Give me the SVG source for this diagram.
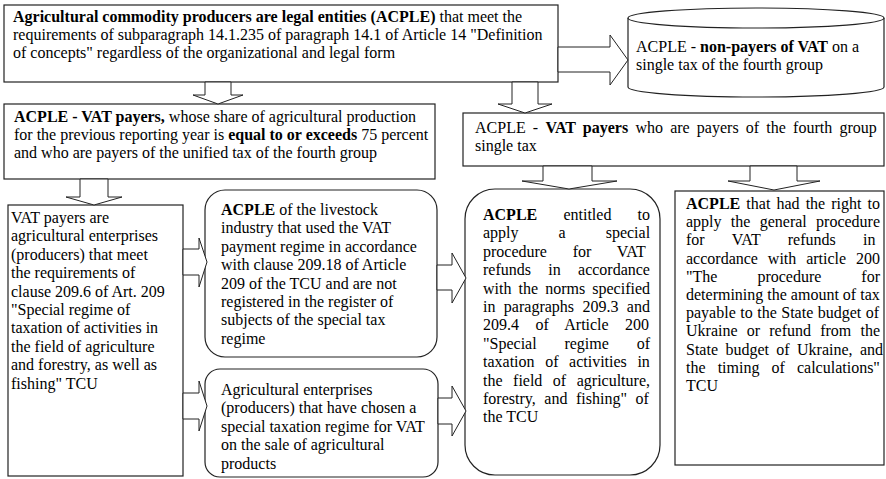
<svg xmlns="http://www.w3.org/2000/svg" width="886" height="479" viewBox="0 0 886 479">
<style>
.t{font-family:"Liberation Serif","Times New Roman",serif;font-size:16px;fill:#000}
.b{font-weight:bold}
.box{fill:#fff;stroke:#222;stroke-width:1.2}
.arr{fill:#fff;stroke:#222;stroke-width:1}
</style>
<rect width="886" height="479" fill="#fff"/>
<g id="n-top">
<rect class="box" x="4" y="5" width="554" height="77"/>
<text class="t" x="13" y="22"><tspan class="b">Agricultural commodity producers are legal entities (ACPLE)</tspan> that meet the</text>
<text class="t" x="13" y="40">requirements of subparagraph 14.1.235 of paragraph 14.1 of Article 14 "Definition</text>
<text class="t" x="13" y="58">of concepts" regardless of the organizational and legal form</text>
</g>
<g id="n-nonpayers">
<path class="box" d="M628,18 L628,87 A128,10 0 0 0 884,87 L884,18"/>
<ellipse class="box" cx="756" cy="18" rx="128" ry="10"/>
<text class="t" x="636" y="52">ACPLE - <tspan class="b">non-payers of VAT</tspan> on a</text>
<text class="t" x="636" y="70">single tax of the fourth group</text>
</g>
<g id="n-payers75">
<rect class="box" x="4" y="104" width="431" height="75"/>
<text class="t" x="14" y="122"><tspan class="b">ACPLE - VAT payers,</tspan> whose share of agricultural production</text>
<text class="t" x="14" y="140">for the previous reporting year is <tspan class="b">equal to or exceeds</tspan> 75 percent</text>
<text class="t" x="14" y="158">and who are payers of the unified tax of the fourth group</text>
</g>
<g id="n-payers4">
<rect class="box" x="463" y="113" width="421" height="53"/>
<text class="t" x="475" y="133" word-spacing="3.2">ACPLE - <tspan class="b">VAT payers</tspan> who are payers of the fourth group</text>
<text class="t" x="475" y="151">single tax</text>
</g>
<g id="n-enterprises">
<rect class="box" x="8" y="205" width="175" height="271"/>
<text class="t" x="11" y="223">VAT payers are</text>
<text class="t" x="11" y="241.4">agricultural enterprises</text>
<text class="t" x="11" y="259.8">(producers) that meet</text>
<text class="t" x="11" y="278.2">the requirements of</text>
<text class="t" x="11" y="296.6">clause 209.6 of Art. 209</text>
<text class="t" x="11" y="315">"Special regime of</text>
<text class="t" x="11" y="333.4">taxation of activities in</text>
<text class="t" x="11" y="351.8">the field of agriculture</text>
<text class="t" x="11" y="370.2">and forestry, as well as</text>
<text class="t" x="11" y="388.6">fishing" TCU</text>
</g>
<g id="n-livestock">
<rect class="box" x="205" y="190" width="232" height="167" rx="20" ry="20"/>
<text class="t" x="221" y="215"><tspan class="b">ACPLE</tspan> of the livestock</text>
<text class="t" x="221" y="233.4">industry that used the VAT</text>
<text class="t" x="221" y="251.8">payment regime in accordance</text>
<text class="t" x="221" y="270.2">with clause 209.18 of Article</text>
<text class="t" x="221" y="288.6">209 of the TCU and are not</text>
<text class="t" x="221" y="307">registered in the register of</text>
<text class="t" x="221" y="325.4">subjects of the special tax</text>
<text class="t" x="221" y="343.8">regime</text>
</g>
<g id="n-special">
<rect class="box" x="205" y="369" width="233" height="108" rx="15" ry="15"/>
<text class="t" x="221" y="395">Agricultural enterprises</text>
<text class="t" x="221" y="413.4">(producers) that have chosen a</text>
<text class="t" x="221" y="431.8">special taxation regime for VAT</text>
<text class="t" x="221" y="450.2">on the sale of agricultural</text>
<text class="t" x="221" y="468.6">products</text>
</g>
<g id="n-specialproc">
<rect class="box" x="465" y="189" width="195" height="286" rx="30" ry="30"/>
<text class="t" x="483" y="220" word-spacing="22.2"><tspan class="b">ACPLE</tspan> entitled to</text>
<text class="t" x="483" y="238.4" word-spacing="36">apply a special</text>
<text class="t" x="483" y="256.8" word-spacing="21.7">procedure for VAT</text>
<text class="t" x="483" y="275.2" word-spacing="13.3">refunds in accordance</text>
<text class="t" x="483" y="293.6" word-spacing="3.1">with the norms specified</text>
<text class="t" x="483" y="312" word-spacing="4.4">in paragraphs 209.3 and</text>
<text class="t" x="483" y="330.4" word-spacing="12.4">209.4 of Article 200</text>
<text class="t" x="483" y="348.8" word-spacing="23.8">"Special regime of</text>
<text class="t" x="483" y="367.2" word-spacing="6.6">taxation of activities in</text>
<text class="t" x="483" y="385.6" word-spacing="6.5">the field of agriculture,</text>
<text class="t" x="483" y="404" word-spacing="4.6">forestry, and fishing" of</text>
<text class="t" x="483" y="422.4">the TCU</text>
</g>
<g id="n-generalproc">
<rect class="box" x="675" y="191" width="209" height="274"/>
<text class="t" x="686" y="209" word-spacing="2.1"><tspan class="b">ACPLE</tspan> that had the right to</text>
<text class="t" x="686" y="227.2" word-spacing="5.3">apply the general procedure</text>
<text class="t" x="686" y="245.4" word-spacing="23.3">for VAT refunds in</text>
<text class="t" x="686" y="263.6" word-spacing="5.9">accordance with article 200</text>
<text class="t" x="686" y="281.8" word-spacing="36">"The procedure for</text>
<text class="t" x="686" y="300">determining the amount of tax</text>
<text class="t" x="686" y="318.2" word-spacing="0.5">payable to the State budget of</text>
<text class="t" x="686" y="336.4" word-spacing="5.2">Ukraine or refund from the</text>
<text class="t" x="686" y="354.6" word-spacing="3.4">State budget of Ukraine, and</text>
<text class="t" x="686" y="372.8" word-spacing="8.1">the timing of calculations"</text>
<text class="t" x="686" y="391">TCU</text>
</g>
<g id="connectors">
<polygon class="arr" points="558,47 610,47 610,35 628,60 610,85 610,72 558,72"/>
<polygon class="arr" points="205,82 231,82 231,95 243,95 218,104 193,95 205,95"/>
<polygon class="arr" points="512,82 538,82 538,104 552,104 525,113 498,104 512,104"/>
<polygon class="arr" points="80,179 108,179 108,197 122,197 94,205 66,197 80,197"/>
<polygon class="arr" points="543,166 592,166 592,181 617,181 569,189 522,181 543,181"/>
<polygon class="arr" points="750,166 797,166 797,181 820,181 774,190 728,181 750,181"/>
<polygon class="arr" points="183,249 199,249 199,238 207,262 199,287 199,275 183,275"/>
<polygon class="arr" points="183,393 199,393 199,381 207,406 199,431 199,419 183,419"/>
<polygon class="arr" points="437,265 452,265 452,253 466,278 452,303 452,290 437,290"/>
<polygon class="arr" points="438,398 452,398 452,386 466,411 452,436 452,424 438,424"/>
</g>
</svg>
